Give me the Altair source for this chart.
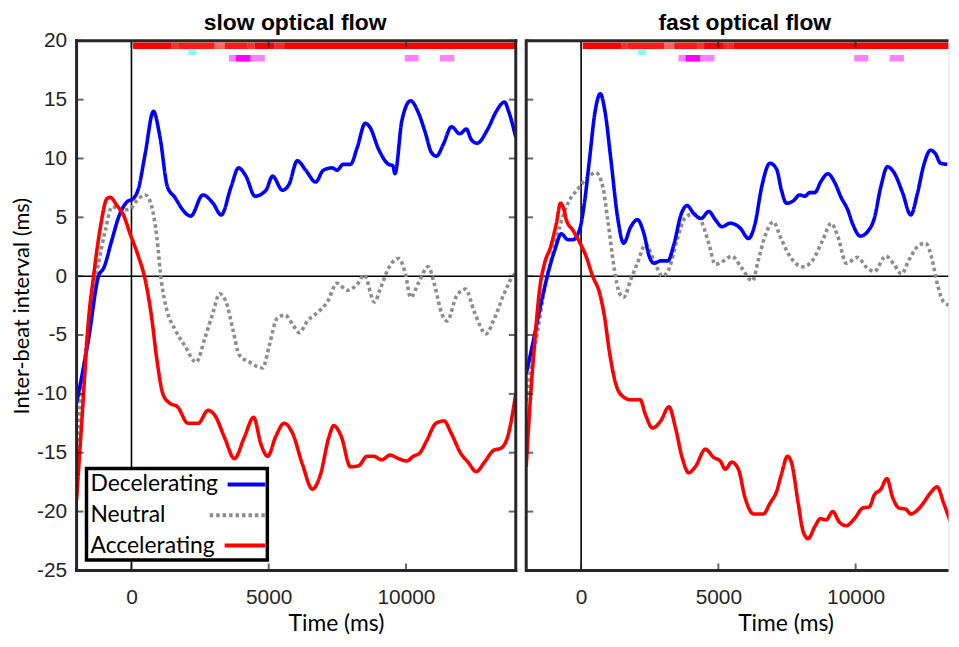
import altair as alt
import pandas as pd

# ---------------- data (time in ms, inter-beat interval change in ms) ----------------
SERIES = ["Decelerating", "Neutral", "Accelerating"]
COLORS = ["#0000ff", "#8c8c8c", "#ff0000"]

y_ticks = [-25, -20, -15, -10, -5, 0, 5, 10, 15, 20]
x_ticks = [0, 5000, 10000]

slow_dec = [(-2000, -10.8), (-1560, -5.3), (-1200, 0), (-1010, 0.7), (-710, 3.1), (-470, 5.0), (-170, 6.3),
            (70, 6.6), (250, 7.4), (500, 10.4), (800, 14.0), (1040, 11.8), (1310, 7.6), (1580, 6.7),
            (1880, 5.6), (2160, 5.1), (2600, 6.9), (2970, 6.2), (3270, 5.2), (3630, 7.6), (3900, 9.2),
            (4170, 8.5), (4500, 6.8), (4900, 7.3), (5140, 8.5), (5500, 7.3), (5740, 7.8), (6040, 9.8),
            (6350, 9.0), (6710, 8.0), (6990, 9.0), (7310, 9.2), (7490, 9.0), (7710, 9.5), (7980, 9.5),
            (8220, 10.9), (8520, 13.0), (8700, 12.6), (9000, 10.8), (9370, 9.5), (9520, 9.4), (9600, 8.7),
            (9850, 13.2), (10170, 14.9), (10450, 13.9), (10690, 12.3), (10930, 10.5), (11110, 10.2),
            (11360, 11.2), (11660, 12.7), (11960, 12.1), (12200, 12.5), (12380, 11.6), (12590, 11.3),
            (12980, 12.5), (13290, 14.0), (13590, 14.8), (13740, 14.0), (14000, 11.8)]

slow_neu = [(-2000, -14.6), (-1740, -7.8), (-1440, -2.2), (-1200, 1.1), (-950, 3.9), (-710, 5.9), (-350, 5.6),
            (-50, 5.7), (190, 6.4), (500, 6.9), (740, 5.9), (920, 3.4), (1100, -0.6), (1280, -2.8),
            (1580, -4.5), (1940, -5.9), (2360, -7.3), (2670, -5.3), (2970, -3.1), (3210, -1.5), (3450, -2.2),
            (3690, -4.5), (3930, -6.7), (4300, -7.3), (4780, -7.8), (5020, -5.9), (5300, -3.6), (5590, -3.3),
            (5900, -4.2), (6110, -4.8), (6410, -3.8), (6770, -3.1), (7130, -2.2), (7490, -0.6), (7860, -1.2),
            (8220, -0.7), (8480, 0.1), (8850, -2.2), (9060, -1.1), (9370, 0.7), (9730, 1.5), (9970, 0.3),
            (10170, -1.8), (10450, -0.6), (10810, 0.8), (11050, -0.8), (11290, -3.1), (11500, -3.8),
            (11840, -1.7), (12170, -1.1), (12500, -3.1), (12920, -4.9), (13220, -3.6), (13590, -1.4),
            (13890, 0.0), (14000, 0.3)]

slow_acc = [(-2000, -19.0), (-1800, -12.0), (-1560, -3.6), (-1380, 0), (-1130, 4.2), (-890, 6.6), (-770, 6.7),
            (-530, 6.0), (-290, 5.2), (-50, 3.6), (250, 1.7), (500, -0.3), (740, -3.6), (920, -7.0),
            (1160, -10.1), (1400, -10.8), (1680, -11.1), (2060, -12.5), (2430, -12.5), (2790, -11.4),
            (3030, -11.8), (3390, -13.7), (3750, -15.5), (4110, -13.7), (4450, -12.0), (4720, -14.3),
            (4960, -15.3), (5260, -13.6), (5560, -12.5), (5860, -13.3), (6230, -16.0), (6590, -18.1),
            (6890, -16.8), (7190, -13.7), (7370, -12.7), (7640, -13.6), (7980, -16.2), (8280, -16.1),
            (8580, -15.3), (8820, -15.3), (9120, -15.6), (9420, -15.2), (9730, -15.5), (10030, -15.7),
            (10270, -15.3), (10510, -15.0), (10750, -14.0), (11090, -12.5), (11380, -12.3), (11660, -13.4),
            (11980, -15.0), (12260, -15.8), (12560, -16.6), (12860, -15.8), (13190, -14.8), (13470, -14.6),
            (13710, -13.6), (14000, -10.0)]

fast_dec = [(-2000, -8.3), (-1750, -5.6), (-1450, -2.2), (-1200, 0.3), (-960, 2.2), (-720, 3.6), (-480, 3.1),
            (-300, 3.1), (-60, 3.9), (120, 6.2), (300, 9.8), (510, 14.0), (700, 15.5), (870, 14.0),
            (1090, 9.8), (1330, 5.0), (1550, 2.8), (1810, 4.2), (2050, 4.8), (2290, 3.6), (2480, 1.7),
            (2660, 1.1), (2900, 1.3), (3160, 1.3), (3380, 2.7), (3650, 5.3), (3860, 6.0), (4110, 5.3),
            (4370, 4.9), (4650, 5.5), (4890, 4.8), (5130, 4.2), (5430, 4.5), (5790, 4.1), (6100, 3.2),
            (6340, 4.5), (6580, 7.6), (6880, 9.6), (7120, 9.1), (7300, 7.3), (7480, 6.2), (7730, 6.4),
            (7960, 6.9), (8150, 6.8), (8330, 7.1), (8510, 7.1), (8750, 8.1), (8990, 8.7), (9230, 8.0),
            (9470, 6.7), (9720, 5.6), (9900, 4.4), (10170, 3.4), (10440, 3.8), (10680, 4.9), (10920, 7.6),
            (11160, 9.3), (11400, 8.8), (11710, 7.1), (12010, 5.2), (12250, 7.0), (12490, 9.5),
            (12730, 10.7), (12910, 10.4), (13090, 9.6), (13340, 9.5), (13600, 10.7)]

fast_neu = [(-2000, -10.6), (-1810, -7.6), (-1570, -4.5), (-1330, -1.1), (-1090, 1.4), (-780, 4.2), (-480, 6.2),
            (-120, 7.4), (240, 8.4), (540, 8.8), (790, 7.6), (970, 4.8), (1210, 0.6), (1390, -1.4),
            (1550, -1.8), (1810, -0.3), (2050, 1.1), (2350, 2.7), (2660, 1.3), (2960, 0.0), (3200, 0.6),
            (3500, 3.1), (3800, 5.0), (4110, 5.3), (4410, 4.5), (4650, 2.8), (4890, 1.0), (5190, 1.3),
            (5490, 1.7), (5850, 0.7), (6240, -0.4), (6460, 1.4), (6700, 3.4), (7000, 4.6), (7300, 3.1),
            (7660, 1.5), (8090, 0.8), (8450, 1.4), (8810, 3.1), (9110, 4.5), (9350, 3.4), (9660, 1.1),
            (10080, 1.6), (10380, 0.8), (10680, 0.4), (11100, 1.7), (11400, 1.0), (11670, 0.2), (11950, 1.4),
            (12250, 2.5), (12550, 2.8), (12790, 1.4), (12970, -0.6), (13210, -2.2), (13460, -2.5),
            (13600, -2.1)]

fast_acc = [(-2000, -16.2), (-1870, -11.2), (-1690, -5.6), (-1510, -1.1), (-1330, 1.1), (-1110, 2.5),
            (-900, 4.5), (-750, 6.2), (-630, 5.7), (-540, 4.8), (-300, 3.9), (-60, 2.9), (180, 1.7), (420, 0),
            (670, -1.4), (850, -3.4), (1030, -6.4), (1270, -9.2), (1510, -10.2), (1810, -10.5), (2150, -10.5),
            (2350, -11.8), (2600, -12.9), (2900, -12.3), (3200, -11.1), (3440, -12.9), (3680, -15.4),
            (3920, -16.7), (4160, -16.2), (4530, -14.7), (4830, -15.4), (5070, -15.7), (5250, -16.4),
            (5490, -15.8), (5730, -16.4), (5970, -18.8), (6280, -20.2), (6640, -20.2), (6880, -19.3),
            (7120, -18.3), (7300, -16.8), (7520, -15.3), (7660, -15.8), (7910, -19.3), (8090, -21.7),
            (8270, -22.3), (8510, -21.3), (8720, -20.6), (8930, -20.7), (9170, -20.0), (9410, -20.9),
            (9660, -21.2), (9960, -20.6), (10260, -19.7), (10500, -19.6), (10680, -18.6), (10920, -18.1),
            (11140, -17.2), (11350, -18.8), (11580, -19.7), (11830, -19.8), (12010, -20.2), (12190, -20.0),
            (12430, -19.4), (12730, -18.4), (12970, -17.9), (13210, -19.3), (13460, -20.9), (13600, -21.3)]

# significance bars along the top: (start ms, end ms, opacity)
sig_red = [(60, 1460, 1.0), (1460, 1700, 0.8), (1700, 3030, 0.9), (3030, 3390, 0.6), (3390, 4235, 0.9),
           (4235, 4480, 0.8), (4480, 5200, 1.0), (5200, 5560, 0.85), (5560, 14000, 1.0)]
sig_cyan = [(2070, 2360)]
sig_magenta_light = [(3550, 4860), (9950, 10460), (11240, 11760)]
sig_magenta_dark = [(3810, 4330)]

PANEL_TITLES = ["slow optical flow", "fast optical flow"]

# ---------------- styling ----------------
FRAME = "#262626"
LABEL_FONT = "Liberation Sans"
TEXT_FONT = "Lato"
PLOT_H = 533
LEFT_W = 442
PX_PER_MS = LEFT_W / 16000.0
RIGHT_W = 425
TICK_LEN = 7


def pairs_df(pairs):
    return pd.DataFrame({"t": [p[0] for p in pairs], "v": [p[1] for p in pairs]})


def seg_df(segs, xmax):
    rows = []
    for s in segs:
        rows.append({"t": s[0], "t2": min(s[1], xmax), "o": s[2] if len(s) > 2 else 1.0})
    return pd.DataFrame(rows)


def legend_layers():
    one = pd.DataFrame({"k": [0]})
    out = [alt.Chart(one).mark_rect(fill="white", stroke="black", strokeWidth=3.5).encode(
        x=alt.value(10), x2=alt.value(192), y=alt.value(430.5), y2=alt.value(522.5))]
    rows_y = [446.5, 477.5, 508]
    starts = [152, 134, 149]
    dash = [[1, 0], [3.5, 3], [1, 0]]
    for i, name in enumerate(SERIES):
        out.append(alt.Chart(one).mark_text(text=name, font=TEXT_FONT, fontSize=23, align="left",
                                            baseline="middle", color="black").encode(
            x=alt.value(14), y=alt.value(rows_y[i])))
        out.append(alt.Chart(one).mark_rule(color=COLORS[i], strokeWidth=4, strokeDash=dash[i],
                                            strokeCap="butt").encode(
            x=alt.value(starts[i]), x2=alt.value(190), y=alt.value(rows_y[i])))
    return out


def panel(title, dec, neu, acc, xmax, width, show_y, right_border, extra):
    xs = alt.Scale(domain=[-2000, xmax], nice=False, zero=False)
    ys = alt.Scale(domain=[-25, 20], nice=False, zero=False)
    xaxis = alt.Axis(values=x_ticks, labelExpr="datum.value", labelFont=LABEL_FONT, labelFontSize=21,
                     labelColor=FRAME, labelPadding=16, ticks=False, tickSize=0, domain=False, grid=False,
                     labelFlush=False, titleFont=TEXT_FONT, titleFontSize=23, titleFontWeight="normal",
                     titleColor="black", titleX=261, titleY=60, titleAlign="center",
                     titleBaseline="alphabetic")
    if show_y:
        yaxis = alt.Axis(values=y_ticks, labelExpr="datum.value", labelFont=LABEL_FONT, labelFontSize=21,
                         labelColor=FRAME, labelPadding=10, ticks=False, tickSize=0, domain=False, grid=False,
                         titleFont=TEXT_FONT, titleFontSize=22, titleFontWeight="normal", titleColor="black",
                         titlePadding=3)
    else:
        yaxis = None

    def X(f="t"):
        return alt.X(f"{f}:Q", scale=xs, axis=xaxis, title="Time (ms)")

    def Y(f="v"):
        if yaxis is None:
            return alt.Y(f"{f}:Q", scale=ys, axis=None)
        return alt.Y(f"{f}:Q", scale=ys, axis=yaxis, title="Inter-beat interval (ms)")

    one = pd.DataFrame({"k": [0]})
    layers = []
    # zero reference lines
    layers.append(alt.Chart(pd.DataFrame({"v": [0]})).mark_rule(color="black", strokeWidth=1.6, clip=True)
                  .encode(y=Y()))
    layers.append(alt.Chart(pd.DataFrame({"t": [0]})).mark_rule(color="black", strokeWidth=1.6, clip=True)
                  .encode(x=X()))

    # series lines
    dash = {"Decelerating": [1, 0], "Neutral": [3.5, 3], "Accelerating": [1, 0]}
    for name, pairs in [("Neutral", neu), ("Decelerating", dec), ("Accelerating", acc)]:
        col = COLORS[SERIES.index(name)]
        pts = [p for p in pairs if p[0] <= xmax + 150]
        layers.append(alt.Chart(pairs_df(pts)).mark_line(
            color=col, strokeWidth=3.6, strokeDash=dash[name], strokeCap="butt", interpolate="monotone",
            clip=True).encode(x=X(), y=Y()))

    # significance bars
    layers.append(alt.Chart(seg_df(sig_red, xmax)).mark_rect(color="#ff0000", clip=True).encode(
        x=X(), x2="t2:Q", y=alt.value(1.8), y2=alt.value(8.2), opacity=alt.Opacity("o:Q", scale=None, legend=None)))
    layers.append(alt.Chart(seg_df(sig_cyan, xmax)).mark_rect(color="#80ffff", clip=True).encode(
        x=X(), x2="t2:Q", y=alt.value(8.5), y2=alt.value(14.2)))
    layers.append(alt.Chart(seg_df(sig_magenta_light, xmax)).mark_rect(color="#ff80ff", clip=True).encode(
        x=X(), x2="t2:Q", y=alt.value(14.2), y2=alt.value(20.8)))
    layers.append(alt.Chart(seg_df(sig_magenta_dark, xmax)).mark_rect(color="#ff00ff", clip=True).encode(
        x=X(), x2="t2:Q", y=alt.value(14.2), y2=alt.value(20.8)))

    # inward tick marks (kept inside the frame)
    half = TICK_LEN / 2.0
    layers.append(alt.Chart(pd.DataFrame({"t": [-2000] * len(y_ticks), "v": y_ticks})).mark_tick(
        orient="horizontal", size=TICK_LEN, thickness=2, color=FRAME, xOffset=half).encode(x=X(), y=Y()))
    if right_border:
        layers.append(alt.Chart(pd.DataFrame({"t": [xmax] * len(y_ticks), "v": y_ticks})).mark_tick(
            orient="horizontal", size=TICK_LEN, thickness=2, color=FRAME, xOffset=-half).encode(x=X(), y=Y()))
    layers.append(alt.Chart(pd.DataFrame({"t": x_ticks, "v": [20] * len(x_ticks)})).mark_tick(
        orient="vertical", size=TICK_LEN, thickness=2, color=FRAME, yOffset=half).encode(x=X(), y=Y()))
    layers.append(alt.Chart(pd.DataFrame({"t": x_ticks, "v": [-25] * len(x_ticks)})).mark_tick(
        orient="vertical", size=TICK_LEN, thickness=2, color=FRAME, yOffset=-half).encode(x=X(), y=Y()))

    # frame
    cap = "square" if right_border else "butt"
    hframe = pd.DataFrame({"t": [-2000, -2000], "t2": [xmax, xmax], "v": [20, -25]})
    layers.append(alt.Chart(hframe).mark_rule(color=FRAME, strokeWidth=3, strokeCap=cap).encode(
        x=X(), x2="t2:Q", y=Y()))
    vx = [-2000] + ([xmax] if right_border else [])
    vframe = pd.DataFrame({"t": vx, "v": [-25] * len(vx), "v2": [20] * len(vx)})
    layers.append(alt.Chart(vframe).mark_rule(color=FRAME, strokeWidth=3, strokeCap="square").encode(
        x=X(), y=Y(), y2="v2:Q"))

    # panel title (placed above the plot frame)
    layers.append(alt.Chart(one).mark_text(text=title, font=LABEL_FONT, fontSize=23, fontWeight="bold",
                                           color="black", align="center", baseline="alphabetic").encode(
        x=alt.value(220), y=alt.value(-11)))

    layers += extra

    return alt.layer(*layers).properties(width=width, height=PLOT_H)


left = panel(PANEL_TITLES[0], slow_dec, slow_neu, slow_acc, 14000, LEFT_W, True, True, legend_layers())

right_max = round(RIGHT_W / PX_PER_MS) - 2000
right = panel(PANEL_TITLES[1], fast_dec, fast_neu, fast_acc, right_max, RIGHT_W, False, False, [])

chart = alt.hconcat(left, right, spacing=4.5).properties(
    padding={"left": 2, "top": 1, "right": 0, "bottom": -3}
).configure_view(stroke="transparent").configure(background="white")

chart.save("out.html", embed_options={"renderer": "svg", "actions": False})
